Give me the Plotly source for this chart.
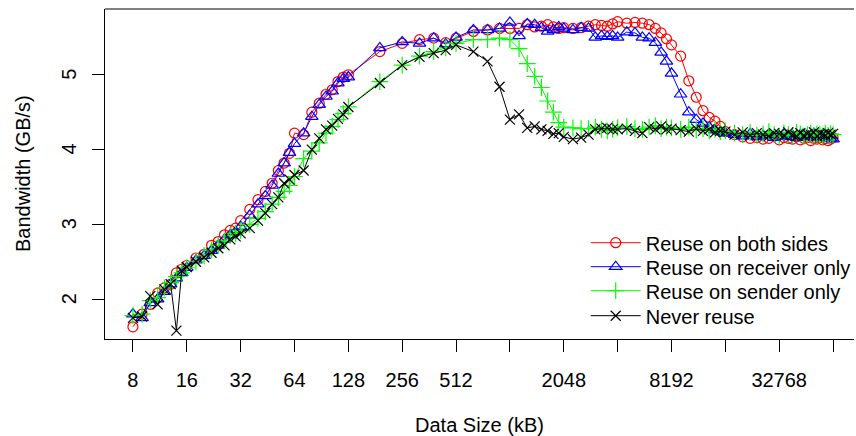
import plotly.graph_objects as go

# ---- data ----
data_size_kb = [8, 9, 10, 11, 12, 13, 14, 15,
                16, 18, 20, 22, 24, 26, 28, 30,
                32, 36, 40, 44, 48, 52, 56, 60,
                64, 72, 80, 88, 96, 104, 112, 120,
                128, 192,
                256, 320, 384, 448,
                512, 640, 768, 896,
                1024, 1152, 1280, 1408, 1536, 1664, 1792, 1920,
                2048, 2304, 2560, 2816, 3072, 3328, 3584, 3840,
                4096, 4608, 5120, 5632, 6144, 6656, 7168, 7680,
                8192, 9216, 10240, 11264, 12288, 13312, 14336, 15360,
                16384, 18432, 20480, 22528, 24576, 26624, 28672, 30720,
                32768, 34816, 36864, 38912, 40960, 43008, 45056, 47104,
                49152, 51200, 53248, 55296, 57344, 59392, 61440, 63488,
                65536]

reuse_both = [1.63, 1.80, 1.93, 2.08, 2.15, 2.20, 2.35, 2.40,
              2.45, 2.55, 2.60, 2.72, 2.77, 2.86, 2.92, 2.95,
              3.05, 3.20, 3.33, 3.44, 3.55, 3.72, 3.82, 3.95,
              4.22, 4.20, 4.50, 4.62, 4.74, 4.80, 4.91, 4.97,
              5.00, 5.31,
              5.42, 5.47, 5.49, 5.43,
              5.49, 5.58, 5.60, 5.62,
              5.62, 5.62, 5.67, 5.64, 5.65, 5.67, 5.64, 5.62,
              5.63, 5.62, 5.63, 5.65, 5.67, 5.66, 5.65, 5.68,
              5.71, 5.69, 5.70, 5.69, 5.67, 5.62, 5.56, 5.48,
              5.40, 5.25, 4.92, 4.70, 4.52, 4.43, 4.38, 4.31,
              4.24, 4.20, 4.17, 4.15, 4.16, 4.14, 4.15, 4.18,
              4.13, 4.16, 4.15, 4.14, 4.17, 4.13, 4.15, 4.16,
              4.12, 4.15, 4.14, 4.16, 4.13, 4.15, 4.12, 4.14,
              4.16]

reuse_receiver = [1.80, 1.75, 1.95, 2.00, 2.10, 2.20, 2.28, 2.35,
                  2.42, 2.52, 2.58, 2.65, 2.72, 2.80, 2.86, 2.90,
                  2.97, 3.12, 3.27, 3.38, 3.52, 3.68, 3.82, 3.96,
                  4.08, 4.22, 4.44, 4.60, 4.71, 4.78, 4.89, 4.95,
                  4.97, 5.36,
                  5.44, 5.42, 5.49, 5.41,
                  5.50, 5.60, 5.60, 5.62,
                  5.70, 5.52, 5.68, 5.67, 5.63, 5.58, 5.60, 5.64,
                  5.62, 5.60, 5.63, 5.62, 5.50, 5.52, 5.51, 5.52,
                  5.50, 5.57, 5.56, 5.50, 5.49, 5.43, 5.30, 5.18,
                  5.02, 4.74, 4.50, 4.40, 4.35, 4.30, 4.26, 4.24,
                  4.22, 4.20, 4.18, 4.21, 4.17, 4.19, 4.20, 4.16,
                  4.18, 4.21, 4.17, 4.19, 4.16, 4.20, 4.18, 4.17,
                  4.19, 4.21, 4.16, 4.18, 4.20, 4.17, 4.19, 4.15,
                  4.14]

reuse_sender = [1.78, 1.80, 1.98, 2.02, 2.15, 2.22, 2.30, 2.35,
                2.42, 2.50, 2.58, 2.66, 2.72, 2.78, 2.85, 2.88,
                2.92, 3.00, 3.08, 3.17, 3.27, 3.36, 3.44, 3.52,
                3.64, 3.88, 3.98, 4.09, 4.22, 4.31, 4.40, 4.48,
                4.57, 4.91,
                5.13, 5.25, 5.31, 5.36,
                5.42, 5.47, 5.47, 5.49,
                5.47, 5.35, 5.15, 4.98, 4.83, 4.65, 4.50, 4.36,
                4.30, 4.29, 4.28, 4.28, 4.30, 4.27, 4.25, 4.27,
                4.29, 4.31, 4.28, 4.27, 4.30, 4.32, 4.28, 4.30,
                4.29, 4.27, 4.30, 4.26, 4.28, 4.25, 4.27, 4.24,
                4.25, 4.22, 4.20, 4.23, 4.19, 4.21, 4.24, 4.20,
                4.18, 4.22, 4.20, 4.19, 4.23, 4.21, 4.18, 4.20,
                4.22, 4.19, 4.21, 4.20, 4.18, 4.22, 4.19, 4.21,
                4.20]

never_reuse = [1.75, 1.77, 2.04, 1.93, 2.13, 2.20, 1.58, 2.38,
               2.43, 2.50, 2.56, 2.62, 2.68, 2.72, 2.80, 2.84,
               2.88, 2.95, 3.05, 3.15, 3.27, 3.36, 3.55, 3.60,
               3.66, 3.72, 4.00, 4.15, 4.27, 4.32, 4.41, 4.47,
               4.57, 4.89,
               5.13, 5.24, 5.29, 5.33,
               5.40, 5.31, 5.18, 4.84,
               4.40, 4.47, 4.29, 4.31, 4.27, 4.25, 4.21, 4.22,
               4.17, 4.14, 4.16, 4.20, 4.27, 4.28, 4.29, 4.27,
               4.27, 4.28, 4.25, 4.22, 4.30, 4.27, 4.31, 4.27,
               4.28, 4.26, 4.24, 4.28, 4.25, 4.27, 4.23, 4.25,
               4.24, 4.20, 4.23, 4.19, 4.22, 4.20, 4.18, 4.22,
               4.21, 4.19, 4.23, 4.20, 4.18, 4.22, 4.19, 4.21,
               4.20, 4.23, 4.18, 4.21, 4.20, 4.19, 4.22, 4.20,
               4.21]

series_names = ["Reuse on both sides", "Reuse on receiver only",
                "Reuse on sender only", "Never reuse"]
series_values = [reuse_both, reuse_receiver, reuse_sender, never_reuse]
series_colors = ["#FF0000", "#0000FF", "#00FF00", "#000000"]
series_symbols = ["circle-open", "triangle-up-open", "cross-thin-open", "x-thin-open"]
series_msizes = [10, 11, 12, 10]

x_tick_vals = [8, 16, 32, 64, 128, 256, 512, 1024, 2048, 4096, 8192, 16384, 32768, 65536]
x_tick_text = ["8", "16", "32", "64", "128", "256", "512", "", "2048", "", "8192", "", "32768", ""]
y_tick_vals = [2, 3, 4, 5]
x_title = "Data Size (kB)"
y_title = "Bandwidth (GB/s)"

FONT = "Liberation Sans, Arial, Helvetica, sans-serif"
FS = 20

legend_ids = ["legend", "legend2", "legend3", "legend4"]
legend_rows_y = [0.2918, 0.2191, 0.1464, 0.0706]

fig = go.Figure()
for name, vals, col, sym, ms, lid in zip(series_names, series_values, series_colors,
                                         series_symbols, series_msizes, legend_ids):
    fig.add_trace(go.Scatter(
        x=data_size_kb, y=vals, name=name, mode="lines+markers",
        line=dict(color=col, width=1),
        marker=dict(symbol=sym, size=ms, color=col, line=dict(color=col, width=1.2)),
        legend=lid,
    ))

legend_common = dict(x=0.6418, xanchor="left", yanchor="middle",
                     bgcolor="rgba(0,0,0,0)", borderwidth=0,
                     itemwidth=50, font=dict(family=FONT, size=FS, color="black"))

fig.update_layout(
    width=856, height=436,
    margin=dict(l=105, r=0, t=9, b=97, pad=0),
    paper_bgcolor="white", plot_bgcolor="white",
    font=dict(family=FONT, size=FS, color="black"),
    showlegend=True,
    legend=dict(y=legend_rows_y[0], **legend_common),
    legend2=dict(y=legend_rows_y[1], **legend_common),
    legend3=dict(y=legend_rows_y[2], **legend_common),
    legend4=dict(y=legend_rows_y[3], **legend_common),
    xaxis=dict(type="log", range=[0.7470, 4.9336],
               tickmode="array", tickvals=x_tick_vals, ticktext=x_tick_text,
               ticks="outside", ticklen=12, tickwidth=1, tickcolor="black",
               tickfont=dict(size=FS),
               showline=True, linecolor="black", linewidth=1, mirror=False,
               showgrid=False, zeroline=False, ticklabelstandoff=11,
               title=dict(text=x_title, standoff=28, font=dict(size=FS)),
               automargin=False),
    yaxis=dict(range=[1.467, 5.88], tickmode="array", tickvals=y_tick_vals,
               showticklabels=False,
               ticks="outside", ticklen=12, tickwidth=1, tickcolor="black",
               showline=True, linecolor="black", linewidth=1, mirror=False,
               showgrid=False, zeroline=False, automargin=False),
)

# rotated y tick labels (R style, parallel to the axis) and y axis title
for v in y_tick_vals:
    fig.add_annotation(text=str(v), xref="paper", yref="y", x=0, y=v, xshift=-36,
                       xanchor="center", yanchor="middle", textangle=-90,
                       showarrow=False, font=dict(family=FONT, size=FS, color="black"))
fig.add_annotation(text=y_title, xref="paper", yref="paper", x=0, y=0.5, xshift=-82,
                   xanchor="center", yanchor="middle", textangle=-90,
                   showarrow=False, font=dict(family=FONT, size=FS, color="black"))

# top border of the plot box (right side is cut off in the reference)
fig.add_shape(type="line", xref="paper", yref="paper", x0=0, x1=1, y0=1, y1=1,
              line=dict(color="black", width=1))

fig.write_html("out.html", config={"displayModeBar": False},
               post_script="document.body.style.margin='0';document.body.style.overflow='hidden';")
